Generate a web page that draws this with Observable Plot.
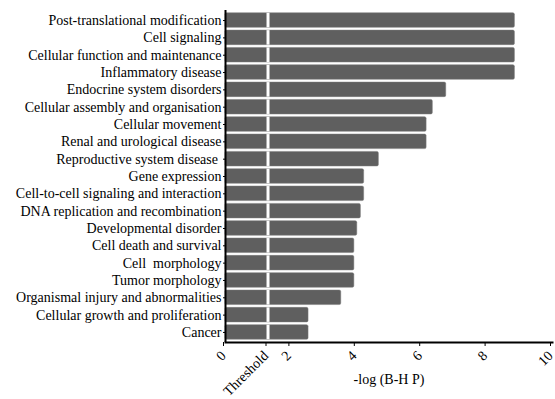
<!DOCTYPE html>
<html>
<head>
<meta charset="utf-8">
<script src="https://cdn.jsdelivr.net/npm/d3@7"></script>
<script src="https://cdn.jsdelivr.net/npm/@observablehq/plot@0.6"></script>
<style>
  html, body { margin: 0; padding: 0; background: #fff; }
  #chart svg { display: block; }
  #chart svg, #chart svg text { font-family: "Liberation Serif", "Times New Roman", serif !important; }
</style>
</head>
<body>
<div id="chart"></div>
<script>
const categories = [
  "Post-translational modification",
  "Cell signaling",
  "Cellular function and maintenance",
  "Inflammatory disease",
  "Endocrine system disorders",
  "Cellular assembly and organisation",
  "Cellular movement",
  "Renal and urological disease",
  "Reproductive system disease ",
  "Gene expression",
  "Cell-to-cell signaling and interaction",
  "DNA replication and recombination",
  "Developmental disorder",
  "Cell death and survival",
  "Cell  morphology",
  "Tumor morphology",
  "Organismal injury and abnormalities",
  "Cellular growth and proliferation",
  "Cancer"
];
const values = [8.85, 8.85, 8.85, 8.85, 6.75, 6.34, 6.15, 6.15, 4.69, 4.24, 4.24, 4.14, 4.03, 3.94, 3.94, 3.94, 3.54, 2.54, 2.54];
const threshold = 1.3;
const tickValues = [0, 1.3, 2, 4, 6, 8, 10];
const tickLabels = ["0", "Threshold", "2", "4", "6", "8", "10"];
const xTitle = "-log (B-H P)";

const data = categories.map((c, i) => ({category: c, value: values[i]}));

const chart = Plot.plot({
  width: 555,
  height: 399,
  marginLeft: 225,
  marginRight: 3,
  marginTop: 10,
  marginBottom: 57,
  style: {fontSize: "14px", color: "#000", background: "#fff"},
  x: {domain: [0, 10]},
  y: {domain: categories, padding: 0.16, round: false},
  marks: [
    Plot.barX(data, {x: "value", y: "category", fill: "#5f5f5f", stroke: "#7a7a7a", strokeWidth: 0.5, rx: 1.5}),
    Plot.tickX(data, {x: () => threshold, y: "category", stroke: "#fff", strokeWidth: 3}),
    Plot.axisY({tickSize: 2, tickPadding: 2, fontSize: 14, label: null}),
    Plot.axisX({
      ticks: tickValues,
      tickFormat: (d) => tickLabels[tickValues.indexOf(d)],
      tickSize: 4,
      tickRotate: -45,
      tickPadding: 7,
      dx: -2,
      fontSize: 14,
      label: null
    }),
    Plot.ruleX([0], {stroke: "#000", strokeWidth: 2}),
    Plot.frame({anchor: "bottom", stroke: "#000", strokeWidth: 2}),
    Plot.text([xTitle], {frameAnchor: "bottom", dy: 41, fontSize: 14, fill: "#000"})
  ]
});
document.getElementById("chart").append(chart);
</script>
</body>
</html>
